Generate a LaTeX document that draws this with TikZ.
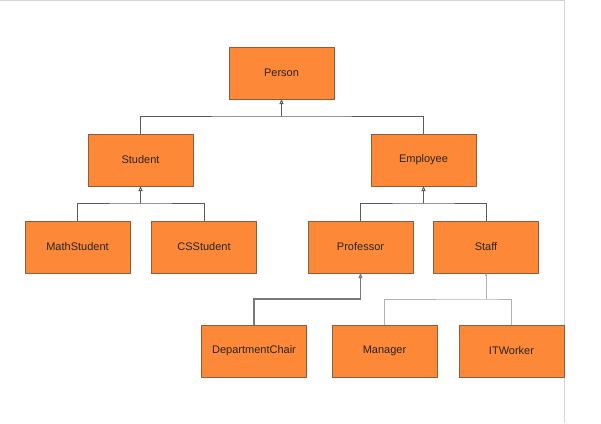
\documentclass[tikz,border=0pt]{standalone}
\usepackage{fontspec}
\setmainfont{Liberation Sans}
\usepackage{xcolor}
\usepackage{tikz}
\usetikzlibrary{arrows.meta}

\definecolor{boxfill}{RGB}{253,136,56}
\definecolor{boxline}{RGB}{140,95,60}
\definecolor{linkdark}{RGB}{90,90,90}
\definecolor{linkmid}{RGB}{120,120,120}
\definecolor{linklight}{RGB}{178,178,178}
\definecolor{framegray}{RGB}{212,212,212}

\begin{document}
\begin{tikzpicture}[
  x=1pt, y=-1pt,
  cls/.style={draw=boxline, line width=0.6pt, fill=boxfill, minimum width=105pt, minimum height=52pt,
    inner sep=0pt, outer sep=0pt, text=black!85, font=\fontsize{11}{13}\selectfont},
  link/.style={draw=linkdark, line width=0.9pt},
  gen/.style={link, -{Triangle[open, length=5pt, width=4pt]}},
  thinlink/.style={draw=linklight, line width=0.7pt},
  thingen/.style={thinlink, -{Triangle[open, length=3pt, width=2.5pt]}}
]
\useasboundingbox (0,0) rectangle (601,423);

% frame
\draw[framegray, line width=0.8pt] (0,0.5) -- (564,0.5) -- (564,423);

% classes
\node[cls] (person) at (281.5,73) {Person};
\node[cls] (student) at (140.5,160) {Student};
\node[cls] (employee) at (423.5,160) {Employee};
\node[cls] (mathstudent) at (77.5,247) {MathStudent};
\node[cls] (csstudent) at (204,247) {CSStudent};
\node[cls] (professor) at (360.5,247) {Professor};
\node[cls] (staff) at (486,247) {Staff};
\node[cls] (chair) at (254,351) {DepartmentChair};
\node[cls] (manager) at (384.5,351) {Manager};
\node[cls] (itworker) at (511.5,351) {ITWorker};

% joins
\coordinate (personjoin) at (281.5,116);
\coordinate (studentjoin) at (140.5,203);
\coordinate (employeejoin) at (423.5,203);
\coordinate (profjoin) at (360.5,299);
\coordinate (staffjoin) at (486,299);

% generalisations
\draw[link] (student.north) |- (personjoin) -| (employee.north);
\draw[gen] (personjoin) -- (person.south);

\draw[link] (mathstudent.north) |- (studentjoin) -| (csstudent.north);
\draw[gen] (studentjoin) -- (student.south);

\draw[link] (professor.north) |- (employeejoin) -| (staff.north);
\draw[gen] (employeejoin) -- (employee.south);

\draw[gen, draw=linkmid, line width=1.1pt] (chair.north) |- (profjoin) -- (professor.south);

\draw[thinlink] (manager.north) |- (staffjoin) -| (itworker.north);
\draw[thingen] (staffjoin) -- (staff.south);

\end{tikzpicture}
\end{document}
